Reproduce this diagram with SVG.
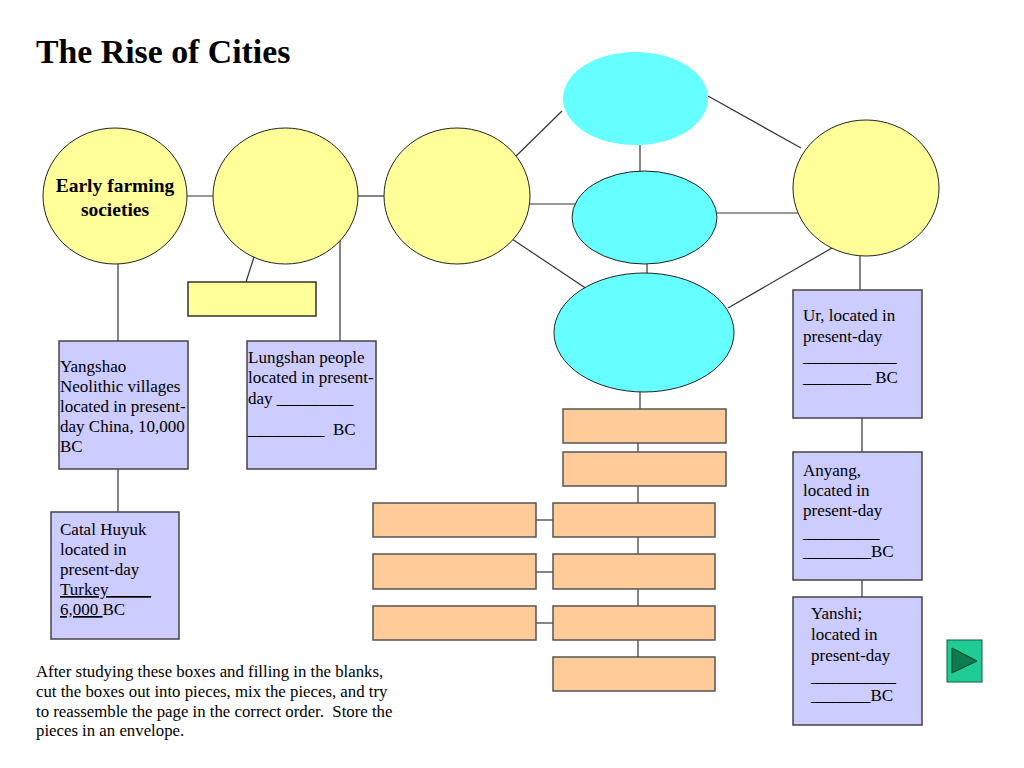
<svg xmlns="http://www.w3.org/2000/svg" width="1024" height="768" viewBox="0 0 1024 768">
<style>
text{font-family:"Liberation Serif","Times New Roman",serif;fill:#000}
.t{font-size:17px}
.p{font-size:16.8px}
.yc{fill:#FFFF99;stroke:#222;stroke-width:1}
.cy{fill:#66FFFF;stroke:#222;stroke-width:1}
.lv{fill:#CCCCFF;stroke:#444;stroke-width:1.5}
.or{fill:#FFCC99;stroke:#555;stroke-width:1.5}
.yr{fill:#FFFF99;stroke:#333;stroke-width:1.5}
.ln{stroke:#333;stroke-width:1.2;fill:none}
</style>
<rect width="1024" height="768" fill="#fff"/>
<text x="36" y="63" font-size="33.8" font-weight="bold">The Rise of Cities</text>

<g id="connectors" class="ln">
<line x1="187" y1="196" x2="220" y2="196"/>
<line x1="358" y1="196" x2="384" y2="196"/>
<line x1="118" y1="264" x2="118" y2="341"/>
<line x1="118" y1="469" x2="118" y2="512"/>
<line x1="254" y1="257" x2="246" y2="282"/>
<line x1="340" y1="239" x2="340" y2="341"/>
<line x1="510" y1="162" x2="562" y2="111"/>
<line x1="528" y1="204" x2="579" y2="204"/>
<line x1="512" y1="239" x2="587" y2="289"/>
<line x1="640" y1="145" x2="640" y2="171"/>
<line x1="647" y1="264" x2="647" y2="281"/>
<line x1="708" y1="96" x2="801" y2="148"/>
<line x1="717" y1="213" x2="798" y2="213"/>
<line x1="728" y1="308" x2="832" y2="248"/>
<line x1="860" y1="256" x2="860" y2="298"/>
<line x1="862" y1="418" x2="862" y2="452"/>
<line x1="862" y1="580" x2="862" y2="597"/>
<line x1="640" y1="392" x2="640" y2="409"/>
<line x1="638" y1="435" x2="638" y2="452"/>
<line x1="638" y1="486" x2="638" y2="503"/>
<line x1="638" y1="537" x2="638" y2="554"/>
<line x1="638" y1="589" x2="638" y2="606"/>
<line x1="638" y1="640" x2="638" y2="657"/>
<line x1="536" y1="520" x2="553" y2="520"/>
<line x1="536" y1="572" x2="553" y2="572"/>
<line x1="536" y1="623" x2="553" y2="623"/>
</g>

<g id="early-farming">
<ellipse class="yc" cx="115" cy="196" rx="72" ry="68"/>
<text x="115" y="192" font-size="19.5" font-weight="bold" text-anchor="middle">Early farming</text>
<text x="115" y="216" font-size="19.5" font-weight="bold" text-anchor="middle">societies</text>
</g>
<g id="circle2"><ellipse class="yc" cx="285.5" cy="196" rx="72.5" ry="68"/></g>
<g id="circle3"><ellipse class="yc" cx="457" cy="196" rx="73" ry="68"/></g>
<g id="circle4"><ellipse class="yc" cx="866" cy="188" rx="73" ry="68"/></g>

<g id="ellipse-top"><ellipse cx="635.5" cy="98.5" rx="72.5" ry="46.5" fill="#66FFFF"/></g>
<g id="ellipse-mid"><ellipse class="cy" cx="644.5" cy="217.5" rx="72.5" ry="46.5"/></g>
<g id="ellipse-bot"><ellipse class="cy" cx="644" cy="332.5" rx="90" ry="59.5"/></g>

<g id="yellow-rect"><rect class="yr" x="188" y="282" width="128" height="34"/></g>

<g id="yangshao">
<rect class="lv" x="59" y="341" width="129" height="128"/>
<text class="t" x="60" y="372">Yangshao</text>
<text class="t" x="60" y="392">Neolithic villages</text>
<text class="t" x="60" y="412">located in present-</text>
<text class="t" x="60" y="432">day China, 10,000</text>
<text class="t" x="60" y="452">BC</text>
</g>

<g id="lungshan">
<rect class="lv" x="247" y="341" width="129" height="128"/>
<text class="t" x="248" y="363">Lungshan people</text>
<text class="t" x="248" y="383">located in present-</text>
<text class="t" x="248" y="404" xml:space="preserve">day _________</text>
<text class="t" x="248" y="435" xml:space="preserve">_________  BC</text>
</g>

<g id="catal">
<rect class="lv" x="51" y="512" width="128" height="127"/>
<text class="t" x="60" y="535">Catal Huyuk</text>
<text class="t" x="60" y="555">located in</text>
<text class="t" x="60" y="575">present-day</text>
<text class="t" x="60" y="595" text-decoration="underline">Turkey_____</text>
<text class="t" x="60" y="615" xml:space="preserve"><tspan text-decoration="underline">6,000 </tspan>BC</text>
</g>

<g id="ur">
<rect class="lv" x="793" y="290" width="129" height="128"/>
<text class="t" x="803" y="321">Ur, located in</text>
<text class="t" x="803" y="342">present-day</text>
<text class="t" x="803" y="362">___________</text>
<text class="t" x="803" y="383" xml:space="preserve">________ BC</text>
</g>

<g id="anyang">
<rect class="lv" x="793" y="452" width="129" height="128"/>
<text class="t" x="803" y="476">Anyang,</text>
<text class="t" x="803" y="496">located in</text>
<text class="t" x="803" y="516">present-day</text>
<text class="t" x="803" y="538">_________</text>
<text class="t" x="803" y="557">________BC</text>
</g>

<g id="yanshi">
<rect class="lv" x="793" y="597" width="129" height="128"/>
<text class="t" x="811" y="619">Yanshi;</text>
<text class="t" x="811" y="640">located in</text>
<text class="t" x="811" y="661">present-day</text>
<text class="t" x="811" y="682">__________</text>
<text class="t" x="811" y="701">_______BC</text>
</g>

<g id="orange-a"><rect class="or" x="563" y="409" width="163" height="34"/></g>
<g id="orange-b"><rect class="or" x="563" y="452" width="163" height="34"/></g>
<g id="orange-c"><rect class="or" x="553" y="503" width="162" height="34"/></g>
<g id="orange-c-left"><rect class="or" x="373" y="503" width="163" height="34"/></g>
<g id="orange-d"><rect class="or" x="553" y="554" width="162" height="35"/></g>
<g id="orange-d-left"><rect class="or" x="373" y="554" width="163" height="35"/></g>
<g id="orange-e"><rect class="or" x="553" y="606" width="162" height="34"/></g>
<g id="orange-e-left"><rect class="or" x="373" y="606" width="163" height="34"/></g>
<g id="orange-f"><rect class="or" x="553" y="657" width="162" height="34"/></g>

<g id="next-button">
<rect x="947" y="640" width="35" height="42" fill="#1FCC96" stroke="#145a3c" stroke-width="1"/>
<polygon points="952,648 952,673 977,661" fill="#0E7A50" stroke="#0a3d28" stroke-width="1"/>
</g>

<g id="instructions">
<text class="p" x="36" y="677">After studying these boxes and filling in the blanks,</text>
<text class="p" x="36" y="697">cut the boxes out into pieces, mix the pieces, and try</text>
<text class="p" x="36" y="717" xml:space="preserve">to reassemble the page in the correct order.  Store the</text>
<text class="p" x="36" y="736">pieces in an envelope.</text>
</g>
</svg>
